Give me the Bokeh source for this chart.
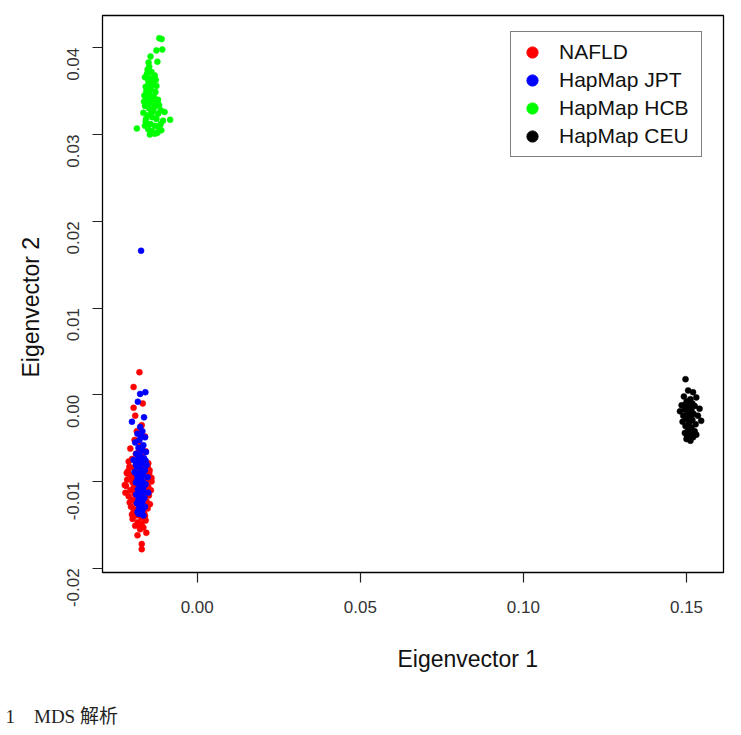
import math
from bokeh.plotting import figure
from bokeh.models import (Range1d, FixedTicker, PrintfTickFormatter, Title,
                          Legend, LegendItem, ColumnDataSource)
from bokeh.embed import file_html
from bokeh.resources import INLINE

# ---------------- data ----------------
nafld_x = [-0.0177, -0.0195, -0.0167, -0.0195, -0.0190, -0.0170, -0.0185, -0.0160, -0.0192, -0.0175,
           -0.0205, -0.0158, -0.0188, -0.0168, -0.0200, -0.0210, -0.0150, -0.0182, -0.0195, -0.0162,
           -0.0212, -0.0147, -0.0175, -0.0202, -0.0144, -0.0188, -0.0215, -0.0155, -0.0198, -0.0168,
           -0.0218, -0.0150, -0.0185, -0.0205, -0.0160, -0.0192, -0.0148, -0.0210, -0.0172, -0.0200,
           -0.0155, -0.0187, -0.0165, -0.0203, -0.0152, -0.0180, -0.0195, -0.0162, -0.0188, -0.0172,
           -0.0198, -0.0158, -0.0182, -0.0170, -0.0190, -0.0156, -0.0175, -0.0170, -0.0170, -0.0183,
           -0.0178, -0.0165, -0.0190, -0.0172, -0.0182, -0.0158, -0.0208, -0.0140, -0.0177, -0.0195,
           -0.0167, -0.0185, -0.0145, -0.0207, -0.0175, -0.0193, -0.0160, -0.0200, -0.0178, -0.0165,
           -0.0213, -0.0152, -0.0185, -0.0170, -0.0197, -0.0162, -0.0188, -0.0150, -0.0180, -0.0168,
           -0.0222, -0.0140, -0.0216, -0.0142, -0.0220, -0.0146]
nafld_y = [0.0026, 0.0009, -0.0010, -0.0015, -0.0024, -0.0035, -0.0042, -0.0048, -0.0052, -0.0058,
           -0.0062, -0.0065, -0.0068, -0.0071, -0.0074, -0.0077, -0.0079, -0.0081, -0.0084, -0.0086,
           -0.0088, -0.0090, -0.0091, -0.0093, -0.0095, -0.0096, -0.0098, -0.0099, -0.0101, -0.0103,
           -0.0105, -0.0106, -0.0108, -0.0110, -0.0112, -0.0114, -0.0116, -0.0117, -0.0119, -0.0121,
           -0.0123, -0.0125, -0.0127, -0.0129, -0.0131, -0.0133, -0.0135, -0.0137, -0.0139, -0.0141,
           -0.0143, -0.0145, -0.0147, -0.0148, -0.0151, -0.0159, -0.0155, -0.0172, -0.0178, -0.0162,
           -0.0063, -0.0078, -0.0088, -0.0097, -0.0102, -0.0092, -0.0083, -0.0100, -0.0112, -0.0107,
           -0.0118, -0.0120, -0.0126, -0.0124, -0.0130, -0.0132, -0.0140, -0.0138, -0.0150, -0.0153,
           -0.0091, -0.0083, -0.0075, -0.0085, -0.0097, -0.0108, -0.0116, -0.0113, -0.0126, -0.0134,
           -0.0104, -0.0096, -0.0090, -0.0110, -0.0113, -0.0087]

jpt_x = [-0.0172, -0.0159, -0.0175, -0.0182, -0.0163, -0.0200, -0.0175, -0.0168, -0.0183, -0.0160,
         -0.0177, -0.0190, -0.0165, -0.0180, -0.0170, -0.0157, -0.0187, -0.0175, -0.0163, -0.0195,
         -0.0180, -0.0168, -0.0155, -0.0185, -0.0173, -0.0160, -0.0192, -0.0178, -0.0165, -0.0152,
         -0.0183, -0.0170, -0.0188, -0.0158, -0.0175, -0.0165, -0.0182, -0.0170, -0.0150, -0.0187,
         -0.0177, -0.0162, -0.0180, -0.0168, -0.0185, -0.0173, -0.0160, -0.0178, -0.0168, -0.0183,
         -0.0175, -0.0165, -0.0180, -0.0172, -0.0178, -0.0167, -0.0175, -0.0180, -0.0172, -0.0163,
         -0.0185, -0.0158, -0.0170, -0.0188, -0.0176, -0.0166, -0.0178, -0.0170, -0.0176]
jpt_y = [0.0166, 0.0003, 0.0001, -0.0008, -0.0026, -0.0031, -0.0037, -0.0042, -0.0045, -0.0049,
         -0.0052, -0.0055, -0.0058, -0.0061, -0.0064, -0.0066, -0.0068, -0.0070, -0.0073, -0.0075,
         -0.0077, -0.0079, -0.0081, -0.0083, -0.0085, -0.0087, -0.0089, -0.0091, -0.0093, -0.0095,
         -0.0097, -0.0099, -0.0101, -0.0103, -0.0105, -0.0107, -0.0109, -0.0111, -0.0113, -0.0115,
         -0.0117, -0.0119, -0.0121, -0.0123, -0.0125, -0.0127, -0.0129, -0.0131, -0.0133, -0.0135,
         -0.0137, -0.0139, -0.0137, -0.0048, -0.0072, -0.0088, -0.0096, -0.0114, -0.0120, -0.0112,
         -0.0092, -0.0076, -0.0062, -0.0080, -0.0084, -0.0101, -0.0103, -0.0126, -0.0110]

hcb_x = [-0.0116, -0.0109, -0.0125, -0.0107, -0.0143, -0.0149, -0.0122, -0.0154, -0.0160, -0.0140,
         -0.0130, -0.0150, -0.0135, -0.0158, -0.0142, -0.0125, -0.0148, -0.0162, -0.0133, -0.0155,
         -0.0140, -0.0120, -0.0160, -0.0147, -0.0130, -0.0112, -0.0165, -0.0152, -0.0138, -0.0125,
         -0.0105, -0.0158, -0.0143, -0.0130, -0.0118, -0.0150, -0.0138, -0.0122, -0.0145, -0.0130,
         -0.0185, -0.0083, -0.0100, -0.0152, -0.0145, -0.0137, -0.0156, -0.0128, -0.0145, -0.0135,
         -0.0157, -0.0112, -0.0140, -0.0150, -0.0163, -0.0117, -0.0127, -0.0147, -0.0110, -0.0160,
         -0.0120, -0.0133, -0.0142]
hcb_y = [0.0411, 0.0410, 0.0397, 0.0398, 0.0390, 0.0383, 0.0384, 0.0370, 0.0366, 0.0372,
         0.0368, 0.0362, 0.0358, 0.0355, 0.0352, 0.0356, 0.0347, 0.0345, 0.0344, 0.0340,
         0.0338, 0.0340, 0.0333, 0.0330, 0.0332, 0.0328, 0.0325, 0.0322, 0.0320, 0.0318,
         0.0316, 0.0315, 0.0312, 0.0310, 0.0308, 0.0306, 0.0304, 0.0302, 0.0300, 0.0301,
         0.0307, 0.0317, 0.0326, 0.0375, 0.0365, 0.0361, 0.0350, 0.0349, 0.0336, 0.0327,
         0.0318, 0.0312, 0.0325, 0.0357, 0.0338, 0.0334, 0.0363, 0.0378, 0.0305, 0.0310,
         0.0324, 0.0337, 0.0343]

ceu_x = [0.1497, 0.1505, 0.1520, 0.1492, 0.1512, 0.1530, 0.1500, 0.1518, 0.1485, 0.1508,
         0.1525, 0.1495, 0.1515, 0.1540, 0.1480, 0.1503, 0.1522, 0.1490, 0.1510, 0.1535,
         0.1500, 0.1518, 0.1545, 0.1488, 0.1508, 0.1528, 0.1497, 0.1515, 0.1505, 0.1525,
         0.1495, 0.1512, 0.1530, 0.1502, 0.1520, 0.1512, 0.1500, 0.1508, 0.1512, 0.1498]
ceu_y = [0.0018, 0.0005, 0.0003, -0.0002, -0.0005, -0.0003, -0.0008, -0.0010, -0.0012, -0.0014,
         -0.0013, -0.0017, -0.0018, -0.0016, -0.0019, -0.0021, -0.0022, -0.0024, -0.0025, -0.0024,
         -0.0028, -0.0029, -0.0030, -0.0031, -0.0033, -0.0034, -0.0036, -0.0038, -0.0041, -0.0042,
         -0.0044, -0.0045, -0.0046, -0.0048, -0.0049, -0.0053, -0.0051, -0.0007, -0.0027, -0.0011]

groups = ["NAFLD", "HapMap JPT", "HapMap HCB", "HapMap CEU"]
colors = ["#FF0000", "#0000FF", "#00FF00", "#000000"]
x_ticks = [0.00, 0.05, 0.10, 0.15]
y_ticks = [-0.02, -0.01, 0.00, 0.01, 0.02, 0.03, 0.04]

x_title = "Eigenvector 1"
y_title = "Eigenvector 2"
caption = "1\u3000MDS 解析"

# ---------------- figure ----------------
W, H = 741, 735
FL, FR, FT, FB = 102, 18, 15, 163   # borders around frame

p = figure(width=W, height=H, output_backend="svg", toolbar_location=None,
           x_range=Range1d(-0.02903, 0.16134), y_range=Range1d(-0.02048, 0.04372),
           min_border_left=FL, min_border_right=FR, min_border_top=FT, min_border_bottom=FB)
p.grid.visible = False
p.background_fill_color = "white"
p.border_fill_color = "white"
p.outline_line_color = "black"
p.outline_line_width = 1.3
p.outline_line_alpha = 1.0

tick_font = "Liberation Sans"
for ax in (p.xaxis[0], p.yaxis[0]):
    ax.axis_line_color = None
    ax.minor_tick_line_color = None
    ax.major_tick_in = 0
    ax.major_tick_out = 10
    ax.major_tick_line_color = "#222222"
    ax.major_tick_line_width = 1.2
    ax.major_label_text_font = tick_font
    ax.major_label_text_font_size = "17px"
    ax.major_label_text_color = "#333333"
    ax.formatter = PrintfTickFormatter(format="%.2f")

p.xaxis[0].ticker = FixedTicker(ticks=x_ticks)
p.yaxis[0].ticker = FixedTicker(ticks=y_ticks)
p.xaxis[0].major_label_standoff = 18
p.yaxis[0].major_label_standoff = 19
p.yaxis[0].major_label_orientation = math.pi / 2

xs = [nafld_x, jpt_x, hcb_x, ceu_x]
ys = [nafld_y, jpt_y, hcb_y, ceu_y]
for gx, gy, c in zip(xs, ys, colors):
    src = ColumnDataSource(dict(x=gx, y=gy))
    p.scatter("x", "y", source=src, size=6, fill_color=c, line_color=c, line_width=0.5)

# legend: separate renderers (one NaN point each, never drawn) for the legend dots
items = []
for g, c in zip(groups, colors):
    r = p.scatter(x=[float("nan")], y=[float("nan")], size=12, fill_color=c, line_color=c)
    items.append(LegendItem(label=g, renderers=[r]))
leg = Legend(items=items, location=(408, 415), orientation="vertical",
             label_text_font=tick_font, label_text_font_size="21px",
             label_text_color="#111111", label_standoff=12,
             glyph_width=30, glyph_height=28, label_height=28, label_width=136,
             spacing=0, padding=6, margin=0,
             border_line_color="black", border_line_width=1.3,
             background_fill_color="white", background_fill_alpha=1.0)
p.add_layout(leg, "center")

# axis titles and caption as side-panel titles
p.add_layout(Title(text=x_title, align="left", offset=295, standoff=56,
                   text_font=tick_font, text_font_size="23px", text_font_style="normal",
                   text_color="#111111"), "below")
p.add_layout(Title(text=caption, align="left", offset=-97, standoff=8,
                   text_font="Liberation Serif, Noto Sans CJK SC", text_font_size="19px",
                   text_font_style="normal", text_color="#222222"), "below")
p.add_layout(Title(text=y_title, align="left", offset=195, standoff=30,
                   text_font=tick_font, text_font_size="23px", text_font_style="normal",
                   text_color="#111111"), "left")

open("out.html", "w").write(file_html(p, INLINE))
